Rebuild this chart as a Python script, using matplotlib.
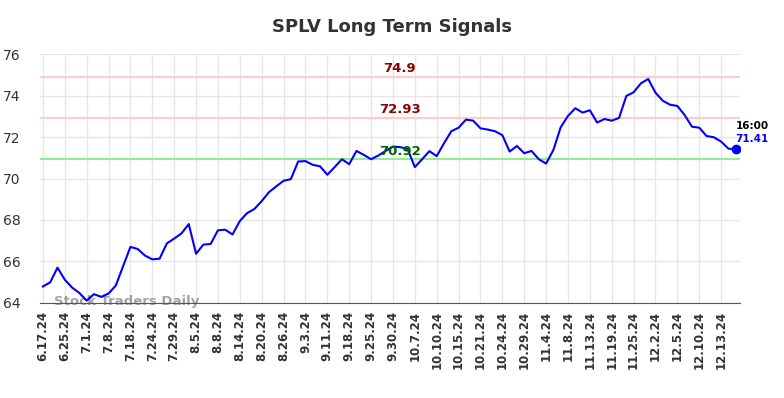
import numpy as np
import matplotlib
matplotlib.use("Agg")
from matplotlib import pyplot as plt

# daily closes
prices = [64.79, 64.99, 65.70, 65.12, 64.74, 64.48, 64.11, 64.42, 64.29, 64.45,
          64.84, 65.77, 66.70, 66.60, 66.28, 66.10, 66.13, 66.87, 67.10, 67.35,
          67.80, 66.37, 66.81, 66.84, 67.50, 67.53, 67.30, 67.95, 68.33, 68.53,
          68.91, 69.34, 69.62, 69.89, 69.97, 70.82, 70.84, 70.66, 70.59, 70.18,
          70.55, 70.93, 70.69, 71.33, 71.14, 70.93, 71.11, 71.33, 71.54, 71.51,
          71.43, 70.55, 70.93, 71.32, 71.08, 71.70, 72.28, 72.45, 72.84, 72.79,
          72.42, 72.36, 72.28, 72.09, 71.30, 71.57, 71.22, 71.33, 70.93, 70.72,
          71.38, 72.47, 73.02, 73.39, 73.18, 73.29, 72.70, 72.87, 72.79, 72.92,
          73.98, 74.16, 74.59, 74.80, 74.14, 73.75, 73.56, 73.50, 73.06, 72.50,
          72.45, 72.05, 71.99, 71.78, 71.44, 71.41]

tick_labels = ["6.17.24", "6.25.24", "7.1.24", "7.8.24", "7.18.24", "7.24.24",
               "7.29.24", "8.5.24", "8.8.24", "8.14.24", "8.20.24", "8.26.24",
               "9.3.24", "9.11.24", "9.18.24", "9.25.24", "9.30.24", "10.7.24",
               "10.10.24", "10.15.24", "10.21.24", "10.24.24", "10.29.24", "11.4.24",
               "11.8.24", "11.13.24", "11.19.24", "11.25.24", "12.2.24", "12.5.24",
               "12.10.24", "12.13.24"]

resist_hi = 74.9
resist_lo = 72.93
support = 70.92
last_time = "16:00"

x = np.arange(len(prices))

fig = plt.figure(figsize=(7.84, 3.98), dpi=100)
ax = fig.add_axes([0.051, 0.239, 0.893, 0.625])

ax.axhline(resist_hi, color="#ffcccc", lw=1.5, zorder=1)
ax.axhline(resist_lo, color="#ffcccc", lw=1.5, zorder=1)
ax.axhline(support, color="#90ee90", lw=1.5, zorder=1)

ax.plot(x, prices, color="#0000ff", lw=1.5, zorder=3)
ax.plot(x[-1], prices[-1], "o", color="#0000ff", ms=6, zorder=4)

mid = 48.9
ax.text(mid, resist_hi + 0.08, f"{resist_hi}", color="#8b0000", fontsize=9.5,
        fontweight="bold", ha="center", va="bottom")
ax.text(mid, resist_lo + 0.08, f"{resist_lo}", color="#8b0000", fontsize=9.5,
        fontweight="bold", ha="center", va="bottom")
ax.text(mid, support + 0.08, f"{support}", color="#006400", fontsize=9.5,
        fontweight="bold", ha="center", va="bottom")

ax.text(x[-1], prices[-1] + 1.1, last_time, color="black", fontsize=7.5,
        fontweight="bold", ha="left", va="center")
ax.text(x[-1], prices[-1] + 0.48, f"{prices[-1]}", color="#0000ff", fontsize=7.5,
        fontweight="bold", ha="left", va="center")

ax.text(1.5, 64.05, "Stock Traders Daily", color="#999999", fontsize=9.5,
        fontweight="bold", ha="left", va="center", alpha=0.9, zorder=2)

ax.set_xlim(-0.4, 95.6)
ax.set_ylim(64, 76)
ax.set_yticks(np.arange(64, 77, 2))
ax.set_xticks(x[::3][:len(tick_labels)])
ax.set_xticklabels(tick_labels, rotation=90, fontweight="bold", fontsize=8.5,
                   color="#333333")
ax.tick_params(axis="y", labelsize=10, colors="#333333", length=0, pad=14)
ax.tick_params(axis="x", length=0, pad=6)

ax.grid(True, color="#e6e6e6", lw=1)
ax.set_axisbelow(True)
for s in ["top", "right", "left"]:
    ax.spines[s].set_visible(False)
ax.spines["bottom"].set_color("#555555")

fig.suptitle("SPLV Long Term Signals", x=0.5, y=0.955, fontsize=13,
             fontweight="bold", color="#333333")

fig.savefig("out.png", dpi=100)
